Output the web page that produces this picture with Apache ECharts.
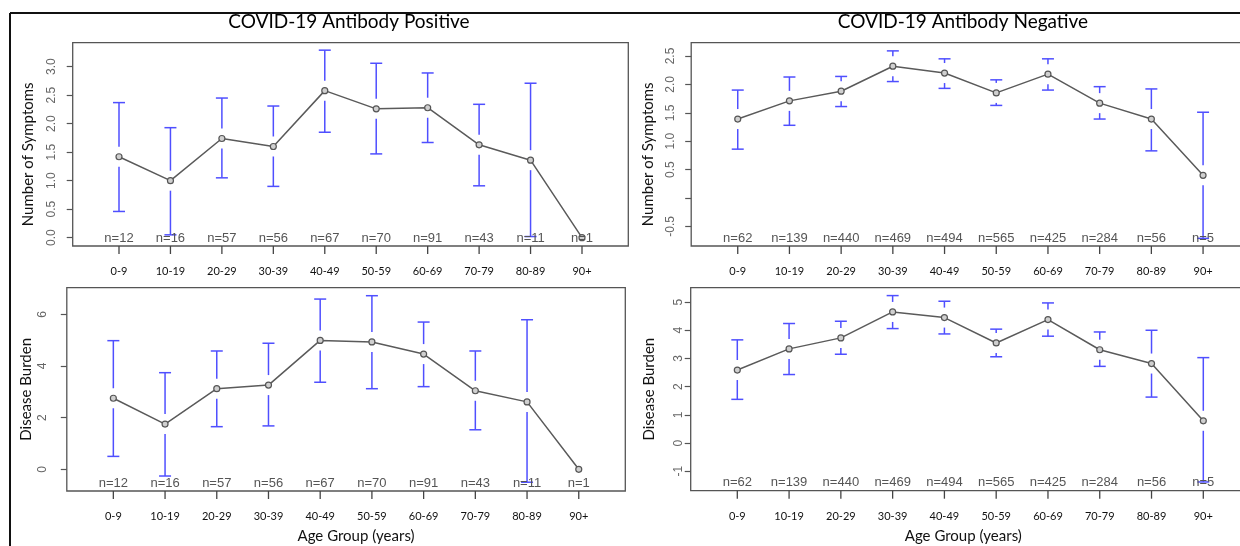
<!DOCTYPE html>
<html>
<head>
<meta charset="utf-8">
<title>COVID-19 Antibody</title>
<script src="https://cdn.jsdelivr.net/npm/echarts@6/dist/echarts.min.js"></script>
<style>
  html, body { margin: 0; padding: 0; background: #fff; }
  #main { width: 1240px; height: 546px; }
</style>
</head>
<body>
<div id="main"></div>
<script>
// age groups on the x axis, placed at 1..10
var ageGroups = ['0-9', '10-19', '20-29', '30-39', '40-49', '50-59', '60-69', '70-79', '80-89', '90+'];
var groupPos = [1, 2, 3, 4, 5, 6, 7, 8, 9, 10];

// group sizes
var nPositive = [12, 16, 57, 56, 67, 70, 91, 43, 11, 1];
var nNegative = [62, 139, 440, 469, 494, 565, 425, 284, 56, 5];

// number of symptoms, antibody positive (mean, lower, upper)
var posSymMean = [1.42, 1.00, 1.74, 1.60, 2.58, 2.26, 2.28, 1.63, 1.36, 0.00];
var posSymLow  = [0.46, 0.05, 1.05, 0.90, 1.85, 1.47, 1.67, 0.91, 0.02, null];
var posSymHigh = [2.37, 1.93, 2.45, 2.31, 3.29, 3.06, 2.89, 2.34, 2.71, null];

// number of symptoms, antibody negative
var negSymMean = [1.39, 1.71, 1.88, 2.32, 2.20, 1.85, 2.18, 1.67, 1.39, 0.40];
var negSymLow  = [0.86, 1.28, 1.61, 2.05, 1.93, 1.63, 1.90, 1.39, 0.83, -0.71];
var negSymHigh = [1.90, 2.13, 2.14, 2.59, 2.45, 2.08, 2.45, 1.96, 1.92, 1.51];

// disease burden, antibody positive
var posBurMean = [2.75, 1.75, 3.12, 3.26, 4.99, 4.93, 4.46, 3.04, 2.61, 0.00];
var posBurLow  = [0.50, -0.26, 1.65, 1.68, 3.37, 3.12, 3.20, 1.53, -0.50, null];
var posBurHigh = [4.98, 3.74, 4.58, 4.88, 6.59, 6.72, 5.70, 4.58, 5.79, null];

// disease burden, antibody negative
var negBurMean = [2.59, 3.34, 3.73, 4.65, 4.45, 3.55, 4.38, 3.31, 2.82, 0.79];
var negBurLow  = [1.55, 2.43, 3.15, 4.06, 3.87, 3.06, 3.79, 2.72, 1.63, -1.38];
var negBurHigh = [3.66, 4.24, 4.32, 5.23, 5.03, 4.04, 4.97, 3.94, 4.00, 3.03];

// y tick values and labels
var symPosTicks = [0, 0.5, 1, 1.5, 2, 2.5, 3];
var symPosLabels = ['0.0', '0.5', '1.0', '1.5', '2.0', '2.5', '3.0'];
var symNegTicks = [-0.5, 0, 0.5, 1, 1.5, 2, 2.5];
var symNegLabels = ['-0.5', '', '0.5', '1.0', '1.5', '2.0', '2.5'];
var burPosTicks = [0, 2, 4, 6];
var burPosLabels = ['0', '2', '4', '6'];
var burNegTicks = [-1, 0, 1, 2, 3, 4, 5];
var burNegLabels = ['-1', '0', '1', '2', '3', '4', '5'];

var barColor = '#4f4fff';
var frameColor = '#555';
var tickLen = 8;

var panels = [
  { rect: { left: 72.7, top: 42.7, width: 555.6, height: 203.3 }, min: -0.146, max: 3.421,
    mean: posSymMean, low: posSymLow, high: posSymHigh, n: nPositive,
    ticks: symPosTicks, labels: symPosLabels, yName: 'Number of Symptoms', nameGap: 37, namePad: [0, 20, 0, 0],
    labelMargin: 15, xName: '' },
  { rect: { left: 691.2, top: 42.7, width: 558.4, height: 203.3 }, min: -0.845, max: 2.734,
    mean: negSymMean, low: negSymLow, high: negSymHigh, n: nNegative,
    ticks: symNegTicks, labels: symNegLabels, yName: 'Number of Symptoms', nameGap: 36, namePad: [0, 20, 0, 0],
    labelMargin: 15, xName: '' },
  { rect: { left: 66.8, top: 287.7, width: 558.5, height: 203.3 }, min: -0.84, max: 7.03,
    mean: posBurMean, low: posBurLow, high: posBurHigh, n: nPositive,
    ticks: burPosTicks, labels: burPosLabels, yName: 'Disease Burden', nameGap: 33, namePad: [0, 0, 0, 0],
    labelMargin: 18, xName: 'Age Group (years)', xNamePad: [0, 0, 0, 20] },
  { rect: { left: 690.7, top: 287.7, width: 559.2, height: 203 }, min: -1.69, max: 5.51,
    mean: negBurMean, low: negBurLow, high: negBurHigh, n: nNegative,
    ticks: burNegTicks, labels: burNegLabels, yName: 'Disease Burden', nameGap: 34, namePad: [0, 0, 0, 0],
    labelMargin: 6, xName: 'Age Group (years)', xNamePad: [0, 14, 0, 0] }
];

function renderBar(params, api) {
  var x = api.value(0);
  var p = api.coord([x, api.value(1)]);
  var lo = api.coord([x, api.value(2)]);
  var hi = api.coord([x, api.value(3)]);
  var gap = 10, cap = 6;
  var st = { stroke: barColor, lineWidth: 1.5 };
  var kids = [];
  if (hi[1] < p[1] - gap) {
    kids.push({ type: 'line', shape: { x1: p[0], y1: hi[1], x2: p[0], y2: p[1] - gap }, style: st });
  }
  if (lo[1] > p[1] + gap) {
    kids.push({ type: 'line', shape: { x1: p[0], y1: p[1] + gap, x2: p[0], y2: lo[1] }, style: st });
  }
  kids.push({ type: 'line', shape: { x1: p[0] - cap, y1: hi[1], x2: p[0] + cap, y2: hi[1] }, style: st });
  kids.push({ type: 'line', shape: { x1: p[0] - cap, y1: lo[1], x2: p[0] + cap, y2: lo[1] }, style: st });
  return { type: 'group', children: kids };
}

// group size text just above the box bottom
function renderCount(params, api) {
  var p = api.coord([api.value(0), 0]);
  var cs = params.coordSys;
  return {
    type: 'text',
    x: p[0],
    y: cs.y + cs.height - 8,
    style: {
      text: 'n=' + api.value(1),
      fill: '#555',
      font: '13px "Liberation Sans", Arial, sans-serif',
      align: 'center',
      verticalAlign: 'middle'
    }
  };
}

// tick mark filling the thin strip grid under each box
function renderTick(params, api) {
  var top = api.coord([api.value(0), 1]);
  var bot = api.coord([api.value(0), 0]);
  return {
    type: 'line',
    shape: { x1: top[0], y1: top[1], x2: bot[0], y2: bot[1] },
    style: { stroke: '#444', lineWidth: 1.3 }
  };
}

var grids = [], xAxes = [], yAxes = [], series = [];

panels.forEach(function (pn, i) {
  grids.push({
    left: pn.rect.left, top: pn.rect.top, width: pn.rect.width, height: pn.rect.height,
    show: true, borderColor: frameColor, borderWidth: 1.3, backgroundColor: 'transparent',
    containLabel: false, outerBoundsMode: 'none'
  });
  xAxes.push({
    gridIndex: i, type: 'value', min: 0.1, max: 10.9,
    name: pn.xName, nameLocation: 'middle', nameGap: 38,
    nameTextStyle: { fontFamily: 'Lato', fontSize: 15, color: '#111', padding: pn.xNamePad || 0 },
    axisLine: { show: false, onZero: false },
    splitLine: { show: false },
    axisTick: { show: false },
    axisLabel: {
      customValues: groupPos, margin: 20, color: '#111', fontFamily: 'Lato', fontSize: 11,
      formatter: function (v) { return ageGroups[Math.round(v) - 1]; }
    }
  });
  yAxes.push({
    gridIndex: i, type: 'value', min: pn.min, max: pn.max,
    name: pn.yName, nameLocation: 'middle', nameRotate: 90, nameGap: pn.nameGap,
    nameTextStyle: { fontFamily: 'Lato', fontSize: 15, color: '#111', padding: pn.namePad },
    axisLine: { show: false, onZero: false },
    splitLine: { show: false },
    axisTick: { show: true, length: 6, customValues: pn.ticks, lineStyle: { color: frameColor, width: 1.2 } },
    axisLabel: {
      customValues: pn.ticks, rotate: 90, margin: pn.labelMargin, color: '#666',
      fontFamily: '"Liberation Sans", Arial, sans-serif', fontSize: 12,
      formatter: function (v) { return pn.labels[pn.ticks.indexOf(v)]; }
    }
  });

  var barData = [];
  groupPos.forEach(function (x, k) {
    if (pn.low[k] !== null) barData.push([x, pn.mean[k], pn.low[k], pn.high[k]]);
  });
  series.push({
    type: 'custom', xAxisIndex: i, yAxisIndex: i, renderItem: renderBar, data: barData, z: 2, silent: true
  });
  series.push({
    type: 'line', xAxisIndex: i, yAxisIndex: i, z: 3, silent: true,
    data: groupPos.map(function (x, k) { return [x, pn.mean[k]]; }),
    symbol: 'circle', symbolSize: 6, showSymbol: true,
    lineStyle: { color: '#5a5a5a', width: 1.5 },
    itemStyle: { color: '#d0d0d0', borderColor: '#555', borderWidth: 1.2 }
  });
  series.push({
    type: 'custom', xAxisIndex: i, yAxisIndex: i, renderItem: renderCount, z: 4, silent: true,
    data: groupPos.map(function (x, k) { return [x, pn.n[k]]; })
  });
});

// thin strip grids right under each box, carrying the x tick marks
panels.forEach(function (pn, i) {
  var g = panels.length + i;
  grids.push({
    left: pn.rect.left, top: pn.rect.top + pn.rect.height, width: pn.rect.width, height: tickLen,
    show: false, containLabel: false, outerBoundsMode: 'none'
  });
  xAxes.push({ gridIndex: g, type: 'value', min: 0.1, max: 10.9, show: false });
  yAxes.push({ gridIndex: g, type: 'value', min: 0, max: 1, show: false });
  series.push({
    type: 'custom', xAxisIndex: g, yAxisIndex: g, renderItem: renderTick, z: 5, silent: true,
    data: groupPos.map(function (x) { return [x, 0]; })
  });
});

var chart = echarts.init(document.getElementById('main'));
chart.setOption({
  animation: false,
  backgroundColor: '#fff',
  title: [
    { text: 'COVID-19 Antibody Positive', left: 349, top: 12, textAlign: 'center', padding: 0,
      textStyle: { fontFamily: 'Lato', fontSize: 19, fontWeight: 'normal', color: '#000' } },
    { text: 'COVID-19 Antibody Negative', left: 963, top: 12, textAlign: 'center', padding: 0,
      textStyle: { fontFamily: 'Lato', fontSize: 19, fontWeight: 'normal', color: '#000' } }
  ],
  graphic: [
    { type: 'line', shape: { x1: 10, y1: 13, x2: 1240, y2: 13 }, style: { stroke: '#111', lineWidth: 2 } },
    { type: 'line', shape: { x1: 10, y1: 13, x2: 10, y2: 546 }, style: { stroke: '#111', lineWidth: 2 } }
  ],
  grid: grids,
  xAxis: xAxes,
  yAxis: yAxes,
  series: series
});
</script>
</body>
</html>
